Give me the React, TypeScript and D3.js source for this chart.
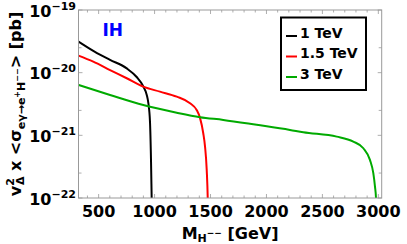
import React from "react";
import * as d3 from "d3";

// Data (M_H-- in GeV, cross-section in pb)
const massBlack = [320, 467, 602, 751, 840, 897, 930, 944, 959, 968, 974, 978];
const xsecBlack = [3.12e-20, 2.14e-20, 1.6e-20, 1.17e-20, 8.53e-21, 6.14e-21, 4.41e-21, 3.29e-21, 1.64e-21, 4.06e-22, 1.0e-22, 4e-23];

const massRed = [320, 452, 602, 751, 899, 1048, 1198, 1317, 1376, 1406, 1435, 1451, 1466, 1475, 1479];
const xsecRed = [1.87e-20, 1.5e-20, 1.1e-20, 8.15e-21, 5.98e-21, 4.98e-21, 4.14e-21, 3.25e-21, 2.54e-21, 1.9e-21, 1.08e-21, 6.61e-22, 2.81e-22, 1.0e-22, 4e-23];

const massGreen = [320, 602, 899, 1198, 1406, 1614, 1913, 2210, 2329, 2628, 2776, 2866, 2925, 2955, 2970, 2979, 2983];
const xsecGreen = [6.37e-21, 4.41e-21, 3.05e-21, 2.3e-21, 1.95e-21, 1.76e-21, 1.47e-21, 1.22e-21, 1.12e-21, 9.53e-22, 7.94e-22, 6.22e-22, 4.06e-22, 2.49e-22, 1.52e-22, 1.0e-22, 4e-23];

const seriesLabels = ["1 TeV", "1.5 TeV", "3 TeV"];
const seriesColors = ["#000000", "#ff0000", "#00aa00"];

const xTickValues = [500, 1000, 1500, 2000, 2500, 3000];
const yTickExponents = [-19, -20, -21, -22];

const W = 407;
const H = 244;
const left = 78.5;
const right = 381.7;
const top = 10;
const bottom = 198;
const FONT = "'DejaVu Sans', sans-serif";

export default function App() {
  const x = d3.scaleLinear().domain([320, 3030]).range([left, right]);
  const y = d3.scaleLog().domain([1e-22, 1e-19]).range([bottom, top]);

  const series = [
    massBlack.map((m, i) => [m, xsecBlack[i]] as [number, number]),
    massRed.map((m, i) => [m, xsecRed[i]] as [number, number]),
    massGreen.map((m, i) => [m, xsecGreen[i]] as [number, number]),
  ];

  const line = d3
    .line<[number, number]>()
    .x((d) => x(d[0]))
    .y((d) => y(d[1]))
    .curve(d3.curveMonotoneX);

  const xMinor = d3.range(400, 3001, 100);
  const yMinor = [-19, -20, -21].map((e) => 2.5 * Math.pow(10, e - 1));
  const yMajor = yTickExponents.map((e) => Math.pow(10, e));
  const tickColor = "#999";

  return (
    <svg
      width={W}
      height={H}
      style={{ position: "fixed", left: 0, top: 0, background: "#fff" }}
      fontFamily={FONT}
    >
      <defs>
        <clipPath id="plotclip">
          <rect x={left} y={top} width={right - left} height={bottom - top} />
        </clipPath>
      </defs>

      {/* ticks */}
      {xMinor.map((v) => {
        const major = v % 500 === 0;
        const len = major ? 4 : 2.5;
        return (
          <g key={"xt" + v}>
            <line x1={x(v)} x2={x(v)} y1={bottom} y2={bottom - len} stroke={tickColor} strokeWidth={0.8} />
            <line x1={x(v)} x2={x(v)} y1={top} y2={top + len} stroke={tickColor} strokeWidth={0.8} />
          </g>
        );
      })}
      {yMajor.concat(yMinor).map((v, i) => {
        const len = i < yMajor.length ? 4 : 3;
        return (
          <g key={"yt" + i}>
            <line x1={left} x2={left + len} y1={y(v)} y2={y(v)} stroke={tickColor} strokeWidth={0.8} />
            <line x1={right} x2={right - len} y1={y(v)} y2={y(v)} stroke={tickColor} strokeWidth={0.8} />
          </g>
        );
      })}

      {/* curves */}
      <g clipPath="url(#plotclip)">
        {series.map((s, i) => (
          <path key={i} d={line(s) || ""} fill="none" stroke={seriesColors[i]} strokeWidth={2} />
        ))}
      </g>

      {/* frame */}
      <rect x={left} y={top} width={right - left} height={bottom - top} fill="none" stroke={tickColor} strokeWidth={1} />

      {/* x tick labels */}
      {xTickValues.map((v) => (
        <text key={"xl" + v} x={x(v)} y={216.5} textAnchor="middle" fontSize={16} fontWeight="bold">
          {v}
        </text>
      ))}

      {/* y tick labels */}
      {yTickExponents.map((e) => (
        <text key={"yl" + e} x={76} y={y(Math.pow(10, e)) + 6.5} textAnchor="end" fontSize={16} fontWeight="bold">
          10
          <tspan dy={-7} fontSize={11}>
            {"\u2212" + String(-e)}
          </tspan>
        </text>
      ))}

      {/* x title */}
      <text x={(left + right) / 2} y={238.5} textAnchor="middle" fontSize={16} fontWeight="bold">
        M
        <tspan dy={3} fontSize={11}>H</tspan>
        <tspan dy={-6} fontSize={9}>{"\u2212\u2212"}</tspan>
        <tspan dy={3}>{" [GeV]"}</tspan>
      </text>

      {/* y title */}
      <text transform={`translate(21,${(top + bottom) / 2}) rotate(-90)`} textAnchor="middle" fontSize={16} fontWeight="bold">
        v
        <tspan dy={-7} fontSize={11}>2</tspan>
        <tspan dx={-7} dy={10} fontSize={11}>{"\u0394"}</tspan>
        <tspan dy={-3}>{" x <\u03c3"}</tspan>
        <tspan dy={4} fontSize={11}>{"e\u03b3\u2192e"}</tspan>
        <tspan dy={-5} fontSize={8}>+</tspan>
        <tspan dy={5} fontSize={11}>H</tspan>
        <tspan dy={-5} fontSize={8}>{"\u2212\u2212"}</tspan>
        <tspan dy={1}>{"> [pb]"}</tspan>
      </text>

      {/* IH */}
      <text x={102.5} y={36} fontSize={17} fontWeight="bold" fill="#0000ff">
        IH
      </text>

      {/* legend */}
      <rect x={281} y={17.5} width={85} height={72.5} fill="#fff" stroke="#000" strokeWidth={2} />
      {seriesLabels.map((lab, i) => {
        const by = 37.5 + i * 20.5;
        return (
          <g key={"lg" + i}>
            <line x1={286} x2={297} y1={by - 1.5} y2={by - 1.5} stroke={seriesColors[i]} strokeWidth={2} />
            <text x={300} y={by} fontSize={14} fontWeight="bold">
              {lab}
            </text>
          </g>
        );
      })}
    </svg>
  );
}
